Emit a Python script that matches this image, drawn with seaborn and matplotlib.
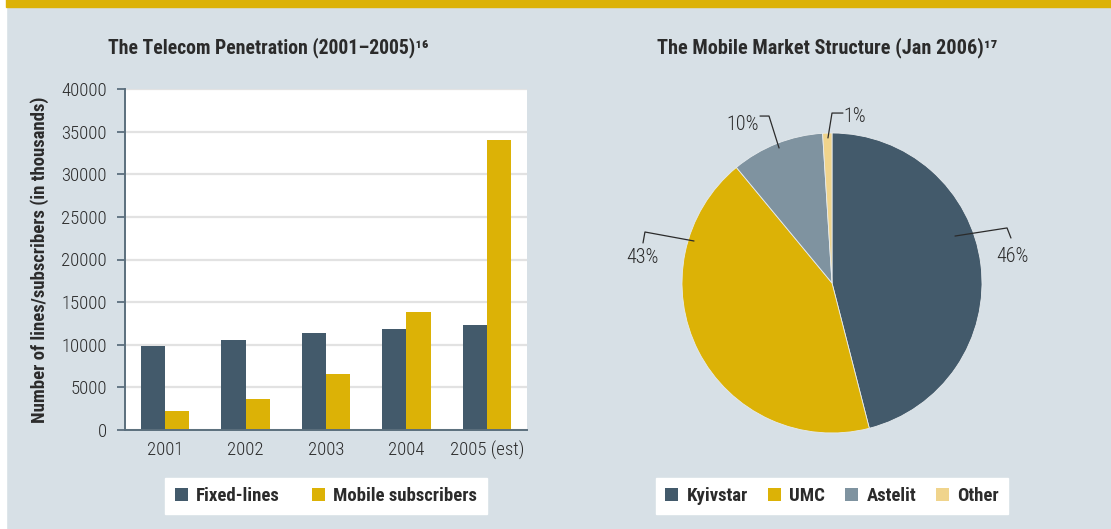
import matplotlib
matplotlib.use("Agg")
import matplotlib.pyplot as plt
from matplotlib.patches import Patch, Rectangle
import seaborn as sns
import pandas as pd
import numpy as np

# --- data ---
years = ["2001", "2002", "2003", "2004", "2005 (est)"]
fixed_lines = [9900, 10600, 11400, 11900, 12350]
mobile_subs = [2200, 3600, 6600, 13900, 34000]
series_names = ["Fixed-lines", "Mobile subscribers"]

operators = ["Kyivstar", "UMC", "Astelit", "Other"]
shares = [46, 43, 10, 1]

# --- style ---
BG = "#d7e0e6"
SLATE = "#435a6b"
GOLD = "#dcb206"
GREY = "#7f93a0"
PALE = "#f0d48c"
AXC = "#5b6f7d"
TXT = "#2b2b2b"

sns.set_theme(style="white")
plt.rcParams["font.family"] = ["Roboto Condensed", "DejaVu Sans"]
plt.rcParams["text.color"] = TXT

fig = plt.figure(figsize=(11.11, 5.29), dpi=100, facecolor=BG)
W, H = 1111, 529

def px_axes(left, top, right, bottom):
    return fig.add_axes([left / W, 1 - bottom / H, (right - left) / W, (bottom - top) / H])

# frame details: background, white strip left, gold band top
fig.patches.append(Rectangle((-0.01, -0.01), 1.02, 1.02, transform=fig.transFigure, color=BG, zorder=-1))
fig.patches.append(Rectangle((-0.01, -0.01), 6 / W + 0.01, 1.02, transform=fig.transFigure, color="white", zorder=0))
fig.patches.append(Rectangle((6 / W, 1 - 7 / H), 1, 7 / H + 0.01, transform=fig.transFigure, color=GOLD, zorder=0))

# --- bar chart ---
df = pd.DataFrame({
    "year": years * 2,
    "series": [series_names[0]] * len(years) + [series_names[1]] * len(years),
    "value": fixed_lines + mobile_subs,
})
ax = px_axes(125, 89, 527, 430)
ax.set_facecolor("white")
sns.barplot(data=df, x="year", y="value", hue="series", palette=[SLATE, GOLD],
            width=0.6, saturation=1, legend=False, ax=ax, zorder=3,
            edgecolor="none", linewidth=0)
ax.set_xlim(-0.5, len(years) - 0.5)
ax.set_ylim(0, 40000)
ax.set_yticks(np.arange(0, 40001, 5000))
ax.yaxis.grid(True, color="#e2e2e2", linewidth=1.6, zorder=0)
ax.set_axisbelow(True)
for s in ["top", "right"]:
    ax.spines[s].set_visible(False)
for s in ["left", "bottom"]:
    ax.spines[s].set_color(AXC)
    ax.spines[s].set_linewidth(1.4)
    ax.spines[s].set_zorder(4)
ax.set_xticks(np.arange(-0.5, len(years), 1.0), minor=True)
ax.tick_params(axis="x", which="major", length=0, pad=8, labelsize=13.5, labelcolor=TXT)
ax.tick_params(axis="x", which="minor", length=6, width=1.3, color=AXC, direction="out")
ax.tick_params(axis="y", length=6, width=1.3, color=AXC, direction="out", pad=7,
               labelsize=13.5, labelcolor=TXT, left=True)
for lab in ax.get_xticklabels() + ax.get_yticklabels():
    lab.set_fontweight("light")
ax.set_xlabel("")
ax.set_ylabel("Number of lines/subscribers (in thousands)", fontsize=13.5,
              fontweight="bold", labelpad=9, color=TXT)

fig.text(268 / W, 1 - 48 / H, "The Telecom Penetration (2001–2005)¹⁶",
         ha="center", va="center", fontsize=14.2, fontweight="bold")

# --- pie chart ---
pax = px_axes(632, 83, 1032, 483)
pax.pie(shares, colors=[SLATE, GOLD, GREY, PALE], startangle=90, counterclock=False,
        radius=1, wedgeprops=dict(linewidth=0.6, edgecolor="#e6ebee"))
pax.set_xlim(-4 / 3, 4 / 3)
pax.set_ylim(-4 / 3, 4 / 3)
pax.set_aspect("equal")
pax.axis("off")

# leader lines (start, elbow, end) and label anchors, in pie-radius units
leaders = [
    [(0.82, 0.313), (1.167, 0.367), (1.193, 0.30)],
    [(-0.92, 0.28), (-1.247, 0.34), (-1.26, 0.267)],
    [(-0.353, 0.90), (-0.42, 1.113), (-0.48, 1.113)],
    [(-0.027, 0.967), (0.0, 1.133), (0.073, 1.133)],
]
label_pos = [(1.20, 0.18), (-1.267, 0.173), (-0.593, 1.06), (0.153, 1.113)]
for share, pts, (tx, ty) in zip(shares, leaders, label_pos):
    xs, ys = zip(*pts)
    pax.plot(xs, ys, color=TXT, linewidth=0.9, clip_on=False)
    pax.text(tx, ty, f"{share}%", ha="center", va="center", fontsize=14.5,
             fontweight="light", color=TXT)

fig.text(827 / W, 1 - 48 / H, "The Mobile Market Structure (Jan 2006)¹⁷",
         ha="center", va="center", fontsize=14.6, fontweight="bold")

# --- legends ---
def sq(c):
    return Patch(facecolor=c, edgecolor="none")

leg_kw = dict(loc="center", ncol=4, frameon=True, fancybox=False, framealpha=1,
              edgecolor="white", facecolor="white", handlelength=0.7, handleheight=0.7,
              handletextpad=0.45, borderpad=0.5, prop=dict(weight="bold", size=13.5))
fig.legend([sq(SLATE), sq(GOLD)], series_names, bbox_to_anchor=(326 / W, 1 - 496 / H),
           columnspacing=1.7, **leg_kw)
fig.legend([sq(c) for c in [SLATE, GOLD, GREY, PALE]], operators,
           bbox_to_anchor=(832 / W, 1 - 496 / H), columnspacing=1.05, **leg_kw)

fig.savefig("out.png", dpi=100, facecolor=BG)
